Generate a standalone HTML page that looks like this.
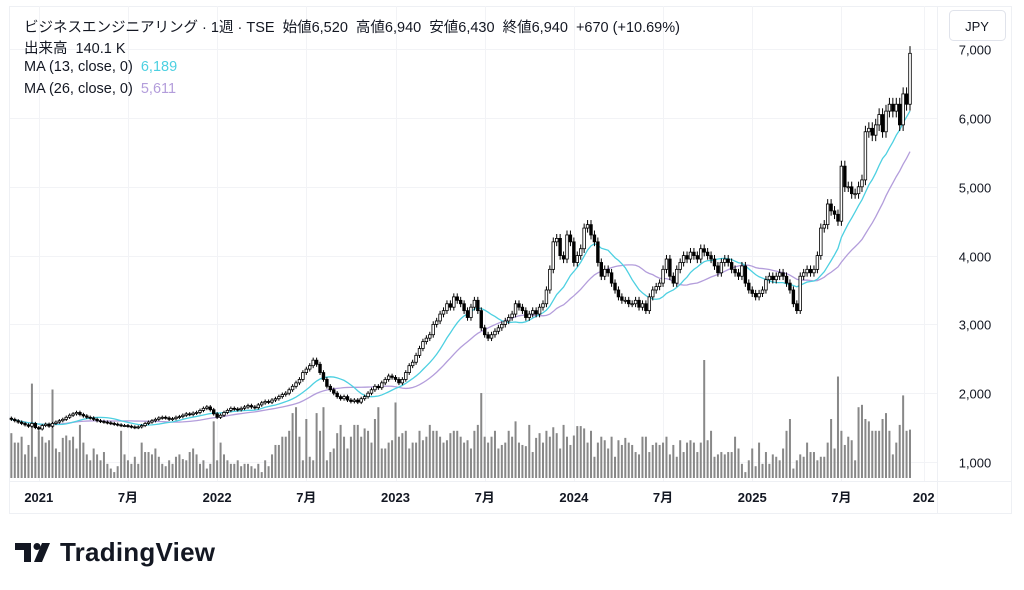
<!DOCTYPE html>
<html><head><meta charset="utf-8">
<style>
html,body{margin:0;padding:0;background:#fff;}
body{width:1024px;height:590px;overflow:hidden;position:relative;font-family:"Liberation Sans","Noto Sans CJK JP",sans-serif;color:#131722;}
.t{position:absolute;font-size:14.5px;white-space:nowrap;}
</style></head>
<body>
<svg id="chart" width="1024" height="590" style="position:absolute;left:0;top:0" xmlns="http://www.w3.org/2000/svg">
<rect x="9.5" y="6.5" width="1002" height="507" fill="none" stroke="#eef0f4"/>
<g id="grid"></g>
<g id="vol"></g>
<g id="ma"></g>
<g id="candles"></g>
<g id="yaxis"></g>
<g id="xaxis"></g>
<line x1="937.5" y1="6" x2="937.5" y2="513" stroke="#eef0f4"/>
<line x1="10" y1="481.5" x2="1011" y2="481.5" stroke="#eef0f4"/>
<rect x="949.5" y="10.5" width="56" height="30" rx="4" fill="#fff" stroke="#e0e3eb"/>
<text x="977" y="31" font-size="13" text-anchor="middle" fill="#131722" font-family="Liberation Sans, sans-serif">JPY</text>
<g>
<path d="M15 543 h16 v19 h-7 v-12 h-9 z" fill="#131722"/>
<circle cx="37" cy="546.5" r="3.5" fill="#131722"/>
<path d="M42 543 h8 l-8 19 h-8 z" fill="#131722"/>
<text x="60" y="561" font-size="26" font-weight="bold" fill="#131722" font-family="Liberation Sans, sans-serif" textLength="155">TradingView</text>
</g>
</svg>
<div class="t" style="left:24px;top:16px">ビジネスエンジニアリング · 1週 · TSE&nbsp; 始値6,520&nbsp; 高値6,940&nbsp; 安値6,430&nbsp; 終値6,940&nbsp; +670 (+10.69%)</div>
<div class="t" style="left:24px;top:37px">出来高&nbsp; 140.1 K</div>
<div class="t" style="left:24px;top:59px">MA (13, close, 0)&nbsp; <span style="color:#4dd0e1">6,189</span></div>
<div class="t" style="left:24px;top:81px">MA (26, close, 0)&nbsp; <span style="color:#b39ddb">5,611</span></div>
<script>
const closes=[
1620,1600,1580,1560,1540,1520,1560,1500,1480,1530,1550,
1520,1560,1580,1600,1620,1650,1680,1700,1720,1690,1670,
1650,1640,1620,1600,1590,1580,1570,1560,1550,1540,1530,1530,1520,1510,1500,1510,
1530,1560,1580,1600,1620,1640,1650,1640,1620,1630,1650,1660,1680,1700,1690,
1710,1720,1750,1780,1800,1760,1700,1650,1680,1720,1750,1780,1770,1760,
1780,1800,1820,1800,1790,1830,1860,1880,1870,1900,1920,1950,1980,2000,
2050,2100,2150,2200,2300,2350,2400,2480,2420,2300,2200,2100,
2050,2000,1950,1920,1950,1900,1880,1900,1870,1920,1950,2000,2050,2100,2080,
2150,2200,2250,2230,2200,2150,2200,2300,2400,2450,2550,
2650,2750,2800,2850,3000,3050,3150,3200,3300,3250,3400,3350,
3300,3200,3100,3250,3350,3200,2950,2850,2800,2850,2900,2950,
3000,3050,3100,3150,3300,3250,3200,3100,3150,3200,3150,3250,3300,
3500,3800,4200,4250,4000,3950,4300,4200,3900,4000,4100,4400,4450,
4300,4200,3900,3700,3800,3750,3600,3500,3400,3350,3350,3300,
3300,3350,3250,3300,3200,3400,3500,3550,3600,3800,3950,3700,
3600,3800,3900,4000,3950,4050,4000,3950,4100,4050,4000,3950,
3850,3750,3900,3950,3900,3800,3750,3700,3850,3600,3500,3450,
3400,3450,3500,3650,3700,3650,3700,3750,3700,3600,3500,3300,
3200,3700,3750,3800,3750,3800,4000,4400,4450,4750,4650,4600,
4500,5300,5000,5000,4900,4900,5000,5100,5800,5850,5750,5900,
6050,5800,6100,6200,6100,6200,5900,6350,6200,6940];
const volumes=[
38,30,30,35,20,28,80,18,40,35,30,
32,75,25,22,34,36,32,35,25,45,30,
20,15,25,20,15,22,12,8,5,10,40,20,15,12,18,12,
30,22,22,20,25,18,12,10,15,12,18,20,16,15,22,
25,20,12,15,8,12,48,15,30,20,15,12,12,15,
10,12,12,10,8,12,5,15,10,20,28,28,35,35,
40,55,60,35,15,50,18,15,55,40,60,15,
22,25,38,45,35,25,35,45,45,35,42,40,30,50,60,
25,25,30,32,64,35,38,40,25,30,30,
40,32,35,45,40,40,35,30,32,38,40,40,
35,30,32,25,40,45,72,35,30,35,40,25,
28,30,40,35,48,30,28,27,45,22,34,38,30,
40,35,43,38,25,45,35,28,36,44,44,42,30,
40,18,30,35,32,25,35,18,32,28,34,30,
28,22,20,35,35,22,28,30,28,30,35,20,
28,18,32,22,30,32,30,22,30,100,32,40,
18,20,22,20,22,22,35,25,12,5,15,25,
10,30,12,22,12,20,18,15,25,40,50,8,
15,20,18,30,22,22,15,18,18,30,50,25,
86,40,28,35,32,15,60,62,50,48,40,40,
40,50,55,40,20,30,45,70,40,41];
const priceTicks=[1000,2000,3000,4000,5000,6000,7000];
const priceTickLabels=["1,000","2,000","3,000","4,000","5,000","6,000","7,000"];
const timeLabels=["2021","7月","2022","7月","2023","7月","2024","7月","2025","7月","202"];
const timeLabelWeeks=[8,34,60,86,112,138,164,190,216,242,266];

const NS="http://www.w3.org/2000/svg";
const N=closes.length;
const lastX=910, step=3.43;
function xOf(i){return lastX-(N-1-i)*step;}
function yOf(p){return 462-(p-1000)*0.0688;}
function vh(v){return v*1.18;}
const VBASE=478;
function mk(tag,attrs,parent){const e=document.createElementNS(NS,tag);for(const k in attrs)e.setAttribute(k,attrs[k]);parent.appendChild(e);return e;}
const grid=document.getElementById('grid'),vol=document.getElementById('vol'),ma=document.getElementById('ma'),cg=document.getElementById('candles'),ya=document.getElementById('yaxis'),xa=document.getElementById('xaxis');

priceTicks.forEach((p,k)=>{
  const y=Math.round(yOf(p))+0.5;
  const l=mk('line',{x1:10,x2:937,y1:y,y2:y,stroke:'#f2f3f6'},grid);
  
  
  const t=mk('text',{x:975,y:y+5,'font-size':13,'text-anchor':'middle',fill:'#131722','font-family':'Liberation Sans, sans-serif'},ya);
  t.textContent=priceTickLabels[k];
  
  
});
timeLabels.forEach((s,k)=>{
  const x=xOf(timeLabelWeeks[k]);
  if(x<937){
    const l=mk('line',{x1:Math.round(x)+0.5,x2:Math.round(x)+0.5,y1:6,y2:481,stroke:'#f2f3f6'},grid);
    
    
  }
  const t=mk('text',{x:x,y:502,'font-size':13,'font-weight':'bold','text-anchor':'middle',fill:'#131722','font-family':'Liberation Sans, Noto Sans CJK JP, sans-serif'},xa);
  t.textContent=s;
  
  
});
volumes.forEach((v,i)=>{
  if(i>=N)return;
  const h=vh(v);
  const r=mk('rect',{x:(xOf(i)-1).toFixed(2),y:(VBASE-h).toFixed(2),width:2,height:h.toFixed(2),fill:'#888'},vol);
  
  
});
function maLine(n,color,name){
  let d='';
  for(let i=0;i<N;i++){
    const s=Math.max(0,i-n+1);let sum=0;for(let j=s;j<=i;j++)sum+=closes[j];
    const m=sum/(i-s+1);
    d+=(i?'L':'M')+xOf(i).toFixed(2)+' '+yOf(m).toFixed(2);
  }
  const p=mk('path',{d:d,fill:'none',stroke:color,'stroke-width':1.3},ma);
  
  
}
maLine(26,'#b39ddb','ma26-line');
maLine(13,'#4dd0e1','ma13-line');
for(let i=0;i<N;i++){
  const c=closes[i],o=i?closes[i-1]:closes[0]*1.01;
  const hi=Math.max(o,c)*1.015,lo=Math.min(o,c)*0.985;
  const x=xOf(i);
  const w=mk('line',{x1:x.toFixed(2),x2:x.toFixed(2),y1:yOf(hi).toFixed(2),y2:yOf(lo).toFixed(2),stroke:'#000','stroke-width':1},cg);
  
  
  const top=yOf(Math.max(o,c)),bh=Math.max(1,yOf(Math.min(o,c))-top);
  const b=mk('rect',{x:(x-1.3).toFixed(2),y:top.toFixed(2),width:2.6,height:bh.toFixed(2),fill:c>=o?'#fff':'#000',stroke:'#000','stroke-width':0.8},cg);
  
  
}
</script>
</body></html>
